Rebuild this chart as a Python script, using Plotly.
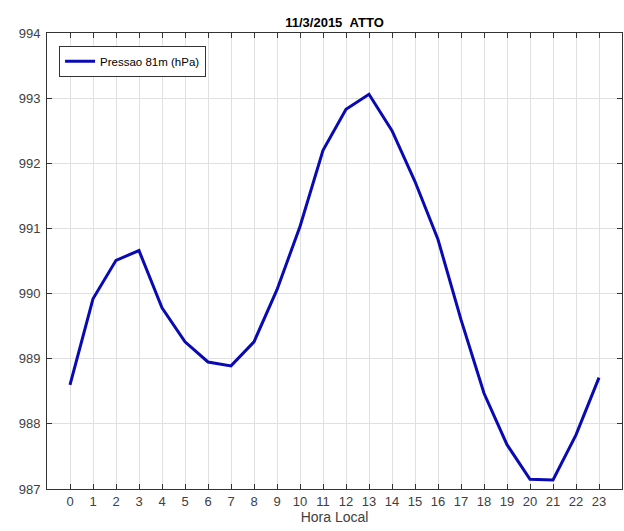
import plotly.graph_objects as go

# Hourly pressure at 81 m, ATTO tower, 11/3/2015
hours = list(range(24))
pressure_hpa = [988.60, 989.92, 990.51, 990.66, 989.78, 989.26, 988.95, 988.89,
                989.26, 990.06, 991.03, 992.20, 992.83, 993.06, 992.50, 991.72,
                990.83, 989.60, 988.47, 987.68, 987.15, 987.14, 987.83, 988.71]
y_ticks = [987, 988, 989, 990, 991, 992, 993, 994]

font_family = "Liberation Sans, Arial, sans-serif"
axis_color = "#333333"
label_color = "#404040"

fig = go.Figure()
fig.add_trace(go.Scatter(
    x=hours, y=pressure_hpa, mode="lines",
    name="Pressao 81m (hPa)",
    line=dict(color="#0a0ab4", width=3),
))

axis_common = dict(
    showline=True, linecolor=axis_color, linewidth=1,
    mirror="allticks", ticks="inside", ticklen=5, tickcolor=axis_color,
    showgrid=True, gridcolor="#e0e0e0", gridwidth=1,
    zeroline=False,
    tickfont=dict(family=font_family, size=13, color=label_color),
)

fig.update_xaxes(
    range=[-1, 24], tickvals=hours, ticktext=[str(h) for h in hours],
    title=dict(text="Hora Local", font=dict(family=font_family, size=14, color=label_color), standoff=4),
    **axis_common,
)
fig.update_yaxes(
    range=[987, 994], tickvals=y_ticks, ticktext=[str(v) for v in y_ticks],
    ticklabelstandoff=3,
    **axis_common,
)

fig.update_layout(
    width=624, height=531,
    margin=dict(l=47, r=2, t=33, b=42),
    paper_bgcolor="white", plot_bgcolor="white",
    title=dict(
        text="<b>11/3/2015\u00a0\u00a0ATTO</b>",
        x=0.5 + (47 - 2) / 2 / 624, xanchor="center",
        y=1 - 22 / 531, yanchor="middle",
        font=dict(family=font_family, size=13, color="#000000"),
    ),
    legend=dict(
        x=0.021, y=0.972, xanchor="left", yanchor="top",
        bgcolor="white", bordercolor=axis_color, borderwidth=1,
        font=dict(family=font_family, size=11.5, color="#000000"),
    ),
    showlegend=True,
    font=dict(family=font_family),
)

fig.write_html("out.html")
